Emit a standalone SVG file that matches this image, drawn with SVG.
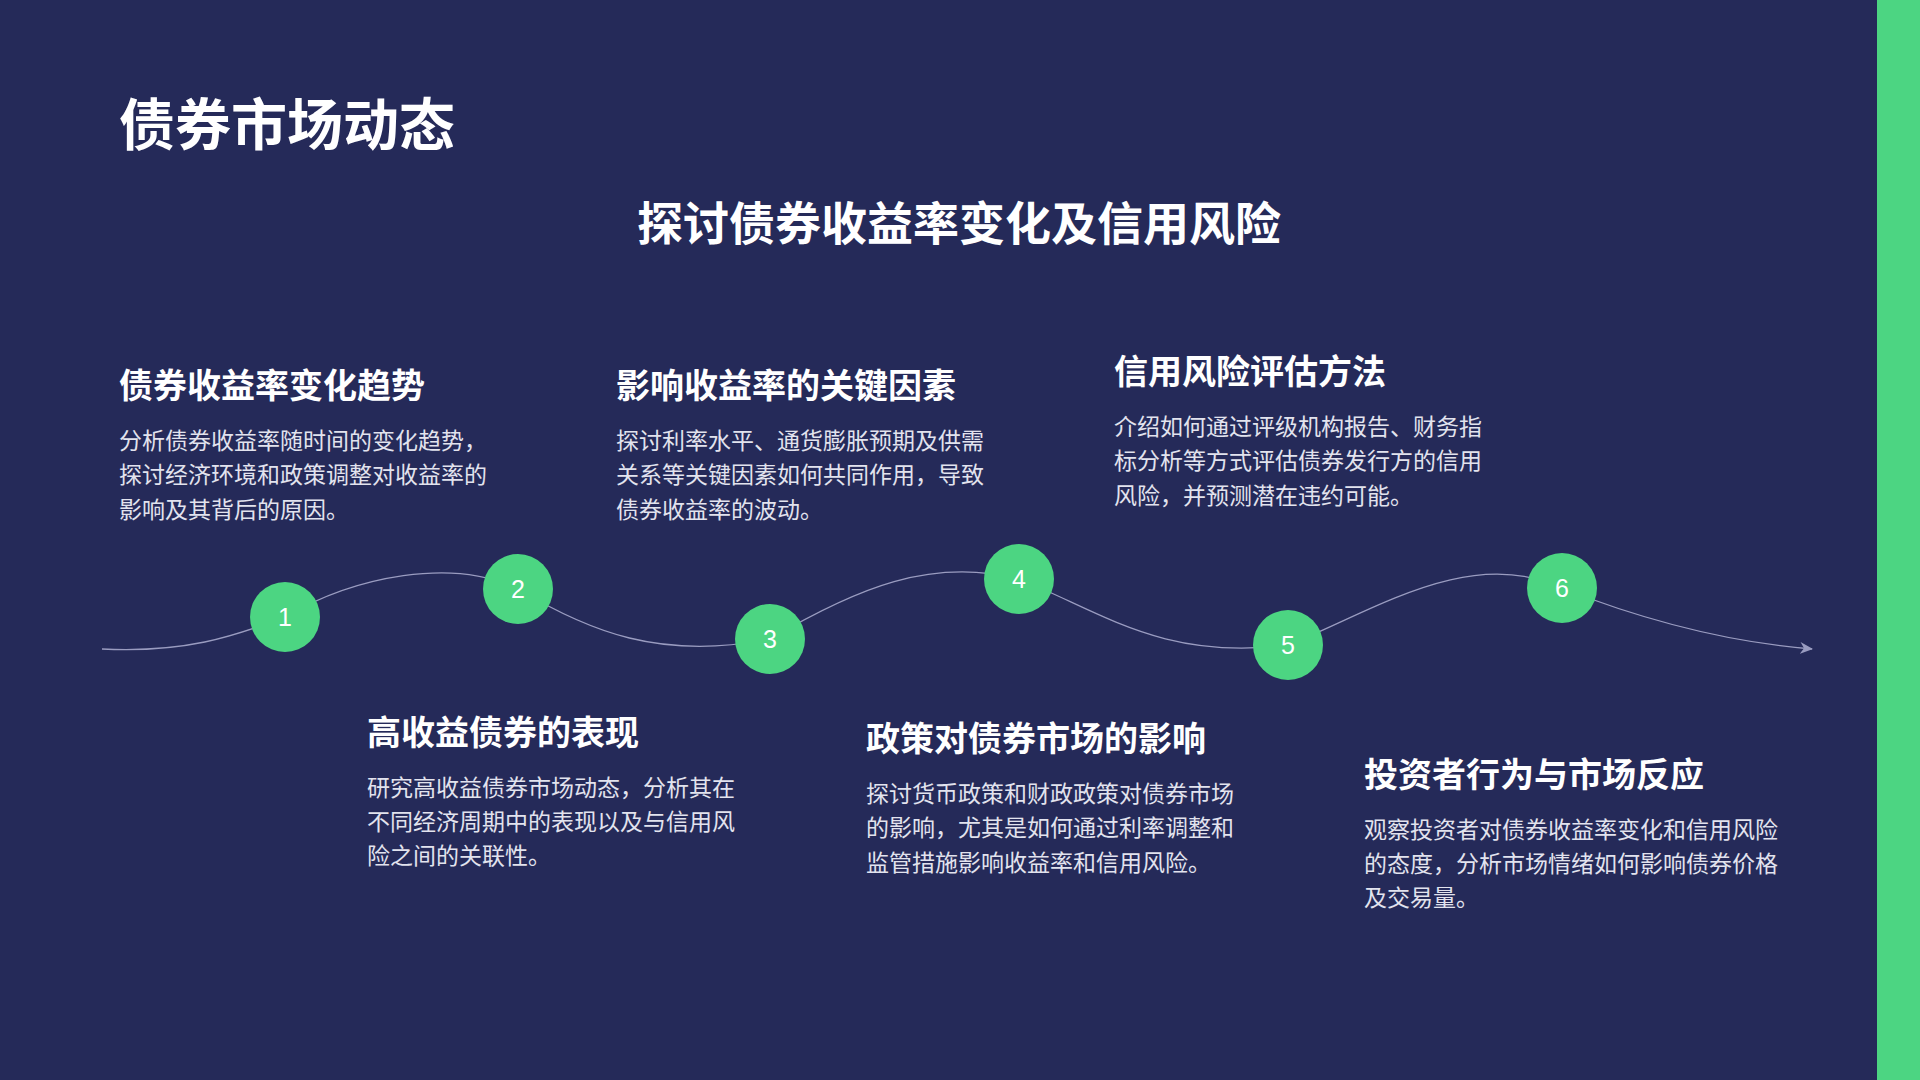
<svg xmlns="http://www.w3.org/2000/svg" width="1920" height="1080" viewBox="0 0 1920 1080">
<style>
.t{font-family:"Liberation Sans","Noto Sans CJK SC",sans-serif;fill:#fff;font-weight:bold}
.h{font-size:34px}
.b{font-family:"Liberation Sans","Noto Sans CJK SC",sans-serif;fill:#e2e3ee;font-size:23px}
.c{fill:#4cd582}
.n{font-family:"Liberation Sans",sans-serif;fill:#fff;font-size:25px;text-anchor:middle}
</style>
<defs><marker id="ar" markerWidth="14" markerHeight="12" refX="12" refY="6" orient="auto" markerUnits="userSpaceOnUse"><path d="M0,0 L13,6 L0,12 L4,6 Z" fill="#9a9cc0"/></marker></defs>
<rect width="1920" height="1080" fill="#252a59"/>
<rect x="1877" y="0" width="43" height="1080" fill="#4cd582"/>
<text class="t" x="119" y="145" font-size="56">债券市场动态</text>
<text class="t" x="959" y="240" font-size="46" text-anchor="middle">探讨债券收益率变化及信用风险</text>
<g id="connectors"><path d="M102,649 C184,653 233,637 285,617 C355,576 453,557 518,589 C588,631 661,661 770,639 C857,588 931,557 1019,579 C1102,612 1163,661 1288,645 C1372,612 1469,545 1562,588 C1653,624 1739,643 1812,649" fill="none" stroke="#9a9cc0" stroke-width="1.3" marker-end="url(#ar)"/></g>
<g id="n1"><circle class="c" cx="285" cy="617" r="35"/><text class="n" x="285" y="626">1</text></g>
<g id="n2"><circle class="c" cx="518" cy="589" r="35"/><text class="n" x="518" y="598">2</text></g>
<g id="n3"><circle class="c" cx="770" cy="639" r="35"/><text class="n" x="770" y="648">3</text></g>
<g id="n4"><circle class="c" cx="1019" cy="579" r="35"/><text class="n" x="1019" y="588">4</text></g>
<g id="n5"><circle class="c" cx="1288" cy="645" r="35"/><text class="n" x="1288" y="654">5</text></g>
<g id="n6"><circle class="c" cx="1562" cy="588" r="35"/><text class="n" x="1562" y="597">6</text></g>
<g id="b1"><text class="t h" x="119" y="398">债券收益率变化趋势</text>
<text class="b" x="119" y="449">分析债券收益率随时间的变化趋势，</text><text class="b" x="119" y="483">探讨经济环境和政策调整对收益率的</text><text class="b" x="119" y="518">影响及其背后的原因。</text></g>
<g id="b2"><text class="t h" x="616" y="398">影响收益率的关键因素</text>
<text class="b" x="616" y="449">探讨利率水平、通货膨胀预期及供需</text><text class="b" x="616" y="483">关系等关键因素如何共同作用，导致</text><text class="b" x="616" y="518">债券收益率的波动。</text></g>
<g id="b3"><text class="t h" x="1114" y="384">信用风险评估方法</text>
<text class="b" x="1114" y="435">介绍如何通过评级机构报告、财务指</text><text class="b" x="1114" y="469">标分析等方式评估债券发行方的信用</text><text class="b" x="1114" y="504">风险，并预测潜在违约可能。</text></g>
<g id="b4"><text class="t h" x="367" y="745">高收益债券的表现</text>
<text class="b" x="367" y="796">研究高收益债券市场动态，分析其在</text><text class="b" x="367" y="830">不同经济周期中的表现以及与信用风</text><text class="b" x="367" y="864">险之间的关联性。</text></g>
<g id="b5"><text class="t h" x="866" y="751">政策对债券市场的影响</text>
<text class="b" x="866" y="802">探讨货币政策和财政政策对债券市场</text><text class="b" x="866" y="836">的影响，尤其是如何通过利率调整和</text><text class="b" x="866" y="871">监管措施影响收益率和信用风险。</text></g>
<g id="b6"><text class="t h" x="1364" y="787">投资者行为与市场反应</text>
<text class="b" x="1364" y="838">观察投资者对债券收益率变化和信用风险</text><text class="b" x="1364" y="872">的态度，分析市场情绪如何影响债券价格</text><text class="b" x="1364" y="906">及交易量。</text></g>
</svg>
